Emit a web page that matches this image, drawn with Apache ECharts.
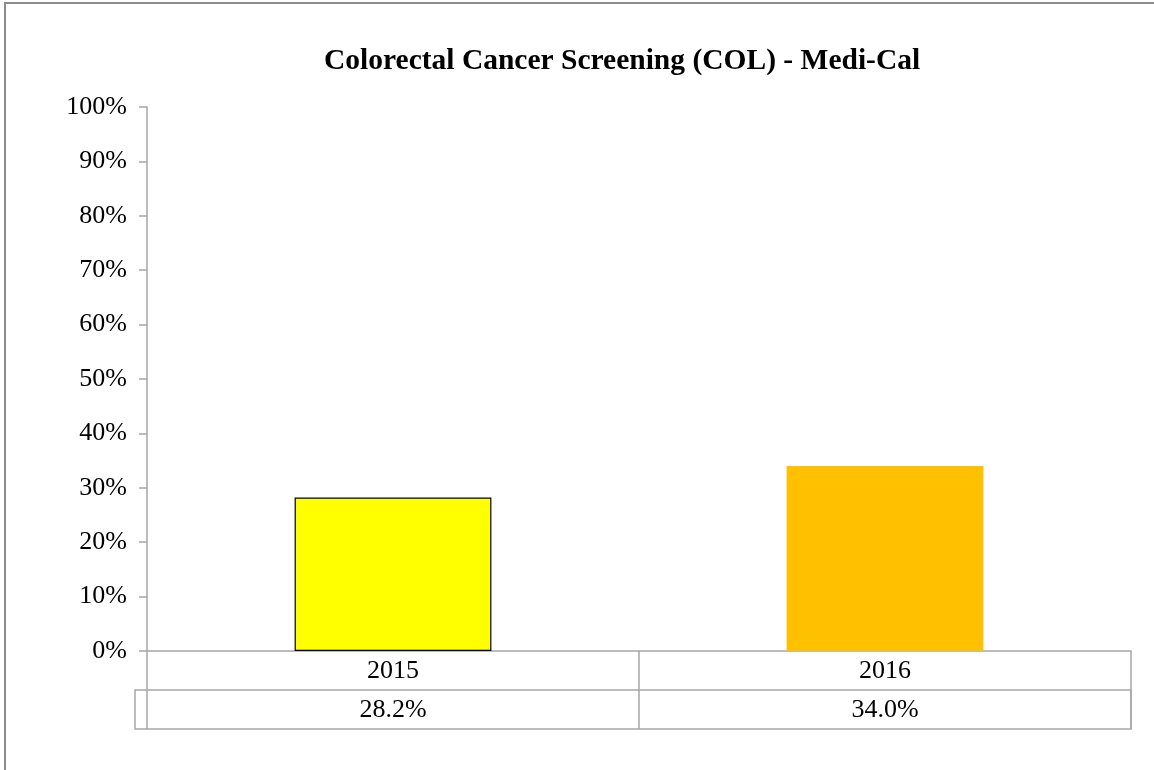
<!DOCTYPE html>
<html>
<head>
<meta charset="utf-8">
<script src="https://cdn.jsdelivr.net/npm/echarts@6/dist/echarts.min.js"></script>
<style>
  html, body { margin: 0; padding: 0; background: #fff; }
  #chart { width: 1154px; height: 770px; }
</style>
</head>
<body>
<div id="chart"></div>
<script>
// Chart data
const title = 'Colorectal Cancer Screening (COL) - Medi-Cal';
const years = ['2015', '2016'];
const rates = [0.282, 0.340];
const barColors = ['#FFFF00', '#FFC000'];
const barBorders = ['#000000', '#FFC000'];
const yTicks = [0, 0.1, 0.2, 0.3, 0.4, 0.5, 0.6, 0.7, 0.8, 0.9, 1.0];

// Layout
const W = 1154, H = 770;
const GRID = { left: 147, right: 23, top: 107, bottom: 119 };
const ROW_H = 39;
const LINE = '#a6a6a6';
const FONT = '"Liberation Serif", "Times New Roman", serif';

const pct1 = v => (v * 100).toFixed(1) + '%';

const chart = echarts.init(document.getElementById('chart'), null, { renderer: 'canvas' });

const gridRight = W - GRID.right;
const gridBottom = H - GRID.bottom;

chart.setOption({
  animation: false,
  backgroundColor: '#ffffff',
  title: {
    text: title,
    left: 319,
    top: 41,
    textStyle: { fontFamily: FONT, fontSize: 29.5, fontWeight: 'bold', color: '#000' }
  },
  grid: { left: GRID.left, right: GRID.right, top: GRID.top, bottom: GRID.bottom },
  xAxis: [
    {
      type: 'category',
      data: years,
      position: 'bottom',
      axisLine: { show: true, lineStyle: { color: LINE, width: 1.5 } },
      axisTick: { show: true, length: ROW_H * 2, lineStyle: { color: LINE, width: 1.5 } },
      axisLabel: { margin: 7, fontFamily: FONT, fontSize: 26, color: '#000' },
      splitLine: { show: false }
    },
    {
      type: 'category',
      data: rates.map(pct1),
      position: 'bottom',
      offset: ROW_H,
      axisLine: { show: false },
      axisTick: { show: false },
      axisLabel: { margin: 7, fontFamily: FONT, fontSize: 26, color: '#000' },
      splitLine: { show: false }
    }
  ],
  yAxis: {
    type: 'value',
    min: yTicks[0],
    max: yTicks[yTicks.length - 1],
    interval: 0.1,
    axisLine: { show: true, lineStyle: { color: LINE, width: 1.5 } },
    axisTick: { show: true, length: 8, lineStyle: { color: LINE, width: 1.5 } },
    splitLine: { show: false },
    axisLabel: {
      margin: 20,
      fontFamily: FONT,
      fontSize: 26,
      color: '#000',
      formatter: v => Math.round(v * 100) + '%'
    }
  },
  series: [{
    type: 'bar',
    barWidth: '40%',
    data: rates.map((v, i) => ({
      value: v,
      itemStyle: { color: barColors[i], borderColor: barBorders[i], borderWidth: 1.2 }
    }))
  }],
  graphic: [
    // outer chart border
    {
      type: 'rect',
      shape: { x: 5, y: 3, width: W + 20, height: H + 20 },
      style: { fill: null, stroke: '#8c8c8c', lineWidth: 2 },
      silent: true
    },
    // data table: value row box (extends left of the axis)
    {
      type: 'rect',
      shape: { x: GRID.left - 12, y: gridBottom + ROW_H, width: gridRight - GRID.left + 12, height: ROW_H },
      style: { fill: null, stroke: LINE, lineWidth: 1.5 },
      silent: true
    }
  ]
});
</script>
</body>
</html>
